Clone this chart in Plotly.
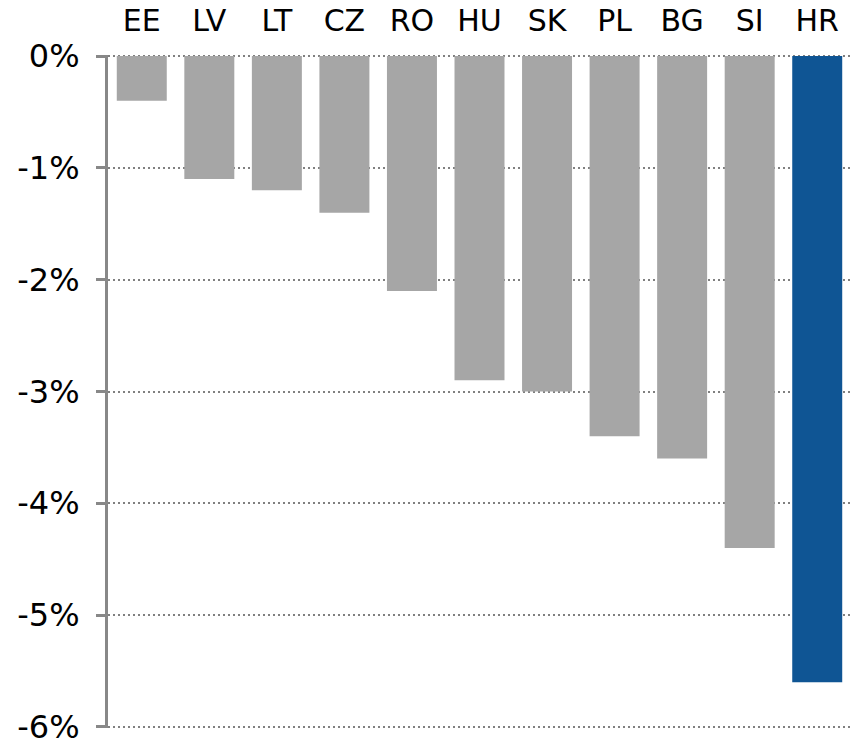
import plotly.graph_objects as go

countries = ["EE", "LV", "LT", "CZ", "RO", "HU", "SK", "PL", "BG", "SI", "HR"]
values = [-0.4, -1.1, -1.2, -1.4, -2.1, -2.9, -3.0, -3.4, -3.6, -4.4, -5.6]
colors = ["#A6A6A6"] * 10 + ["#0F5594"]
y_ticks = [0, -1, -2, -3, -4, -5, -6]
y_tick_labels = ["0%", "-1%", "-2%", "-3%", "-4%", "-5%", "-6%"]

fig = go.Figure(go.Bar(x=countries, y=values, marker=dict(color=colors, line=dict(width=0)),
                       width=0.74, hoverinfo="skip"))

fig.update_layout(
    width=851, height=742,
    margin=dict(l=108, r=0, t=55, b=14),
    plot_bgcolor="white", paper_bgcolor="white",
    font=dict(family="DejaVu Sans", size=31, color="black"),
    showlegend=False,
    xaxis=dict(side="top", range=[-0.5, 10.5], showgrid=False, showline=False,
               ticks="outside", ticklen=11, tickcolor="rgba(0,0,0,0)",
               tickfont=dict(size=30), zeroline=False, automargin=False),
    yaxis=dict(range=[-6.01, 0.01], tickvals=y_ticks, ticktext=y_tick_labels,
               showgrid=True, gridcolor="#808080", gridwidth=2, griddash="2px,3px",
               zeroline=False, showline=True, linecolor="#888888", linewidth=3,
               ticks="outside", ticklen=9, tickwidth=3, tickcolor="#888888",
               ticklabelstandoff=10, ticklabeloverflow="allow",
               tickfont=dict(size=32), automargin=False),
)

fig.write_html("out.html", config={"displayModeBar": False},
               post_script="document.body.style.margin='0';document.body.style.overflow='hidden';")
